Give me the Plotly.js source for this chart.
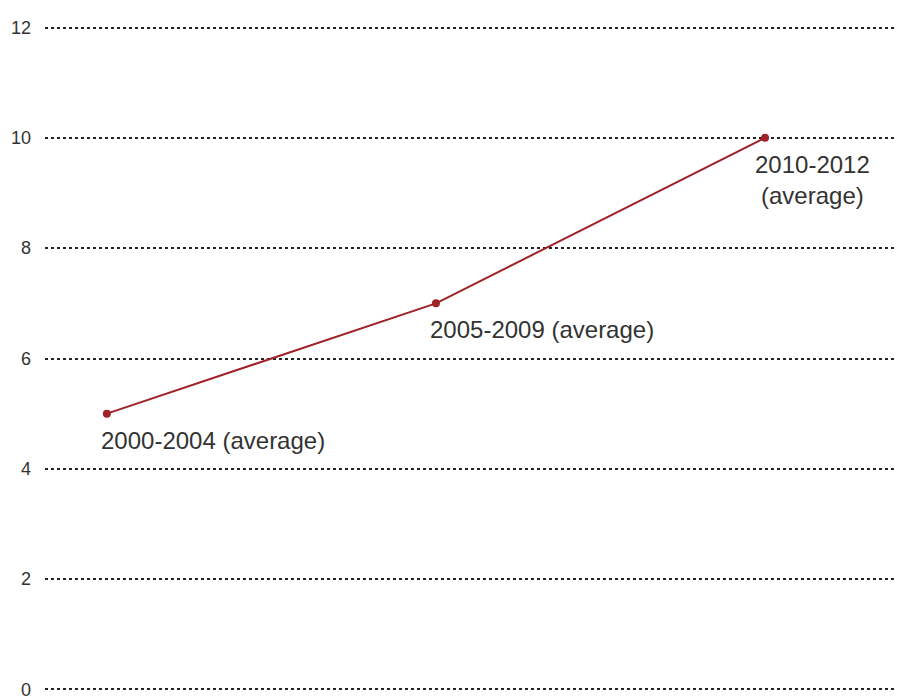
<!DOCTYPE html>
<html>
<head>
<meta charset="utf-8">
<script src="https://cdn.plot.ly/plotly-3.0.1.min.js"></script>
<style>html,body{margin:0;padding:0;background:#fff;}#chart{width:898px;height:697px;}</style>
</head>
<body>
<div id="chart"></div>
<script>
const periods = ["2000-2004 (average)", "2005-2009 (average)", "2010-2012<br>(average)"];
const positions = [0, 1, 2];
const values = [5, 7, 10];
const yTicks = [0, 2, 4, 6, 8, 10, 12];

const trace = {
  x: positions,
  y: values,
  type: 'scatter',
  mode: 'lines+markers',
  line: {color: '#9e2228', width: 2},
  marker: {color: '#9e2228', size: 8},
  hoverinfo: 'skip'
};

const labelAnchor = ['left', 'left', 'center'];
const labelShift = [-8, -8, 47];
const labelYShift = [-11, -11, -11];
const annotations = periods.map((p, i) => ({
  x: positions[i], y: values[i], xref: 'x', yref: 'y',
  text: p, showarrow: false,
  xanchor: labelAnchor[i], yanchor: 'top',
  xshift: labelShift[i], yshift: labelYShift[i],
  align: 'center',
  font: {family: '"Liberation Sans Narrow", sans-serif', size: 24, color: '#333333'}
}));

const layout = {
  width: 898, height: 697,
  margin: {l: 45, r: 3, t: 22, b: 2},
  paper_bgcolor: '#fff', plot_bgcolor: '#fff',
  showlegend: false,
  xaxis: {
    range: [-0.188, 2.395],
    showgrid: false, zeroline: false, showline: false,
    showticklabels: false, ticks: ''
  },
  yaxis: {
    range: [-0.1, 12.1],
    tickvals: yTicks,
    ticktext: yTicks.map(String),
    showgrid: true, gridcolor: '#222222', griddash: 'dot', gridwidth: 2,
    zeroline: false, showline: false, ticks: '',
    ticklabelstandoff: 13,
    ticklabeloverflow: 'allow',
    tickfont: {family: '"Liberation Sans Narrow", sans-serif', size: 18, color: '#333333'}
  },
  annotations: annotations
};

Plotly.newPlot('chart', [trace], layout, {displayModeBar: false, staticPlot: true});
</script>
</body>
</html>
